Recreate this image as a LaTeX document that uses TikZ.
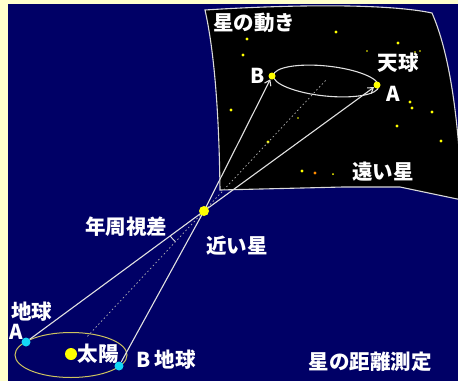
\documentclass[tikz,border=0pt]{standalone}
\usepackage{fontspec}
\setmainfont{Noto Sans CJK JP}
\usetikzlibrary{arrows.meta,backgrounds}
\definecolor{navy}{RGB}{0,0,102}
\definecolor{cream}{RGB}{255,255,204}
\definecolor{starY}{RGB}{255,255,0}
\definecolor{earthC}{RGB}{20,215,245}
\definecolor{orbitY}{RGB}{205,195,95}
\definecolor{rayW}{RGB}{225,225,225}
\begin{document}
\begin{tikzpicture}[x=1pt,y=-1pt]
        \begin{scope}
            \tikzset{bigstar/.style = {
                circle,
                fill=starY,
                inner sep=0pt,
                minimum size=7pt } }
            \tikzset{earth/.style = {
                circle,
                fill=earthC,
                inner sep=0pt,
                minimum size=9pt } }
            \tikzset{ray/.style = {
                draw=rayW,
                line width=1.1pt} }
            \tikzset{jtext/.style = {
                text=white,
                inner sep=0pt,
                font=\fontsize{20.5}{20.5}\selectfont\bfseries } }
                \useasboundingbox (0,0) rectangle (458,381);
                \node[bigstar] (skyB) at (272,76) {};
                \node[bigstar] (skyA) at (377,85) {};
                \node[bigstar, minimum size=10pt] (near) at (204,211) {};
                \node[earth] (earthA) at (26,342) {};
                \node[earth] (earthB) at (119,366) {};
                \node[bigstar, minimum size=12pt] (sun) at (71,354) {};
                \coordinate (skymid) at (326,80);
                \node[jtext] (t1) at (254,23) {星の動き};
                \node[jtext] (t2) at (398,63) {天球};
                \node[jtext] (tB) at (258,76) {B};
                \node[jtext] (tA) at (393,94) {A};
                \node[jtext] (t3) at (383,172) {遠い星};
                \node[jtext] (t4) at (126,227) {年周視差};
                \node[jtext] (t5) at (237,246) {近い星};
                \node[jtext] (t6) at (32,312) {地球};
                \node[jtext] (tA2) at (16,332) {A};
                \node[jtext] (t7) at (98,354) {太陽};
                \node[jtext] (t8) at (166,360) {B 地球};
                \node[jtext] (t9) at (370,362) {星の距離測定};
                \begin{scope}[on background layer]
                    \fill[cream] (0,0) rectangle (458,381);
                    \fill[navy] (8,4) rectangle (458,381);
                    \clip (0,0) rectangle (458,381);
                    \filldraw[fill=black, draw=gray!30, line width=1.1pt]
                        (205,10) .. controls (300,4) and (390,4) .. (432,13)
                        .. controls (446,45) and (458,100) .. (462,200)
                        -- (400,187) -- (343,187) -- (220,190)
                        .. controls (219,110) and (214,50) .. (205,10) -- cycle;
                    \foreach \x/\y/\r in {336/32/1.6, 247/39/1.6, 243/55/1.6, 398/43/1.6,
                        367/51/0.8, 415/52/0.9, 420/51/0.9, 231/110/1.6, 410/102/1.6,
                        412/108/1.6, 432/112/1.6, 397/126/1.6, 441/141/1.6, 268/142/1.6,
                        298/118/0.8, 302/171/1.6, 333/174/1}{
                        \fill[starY] (\x,\y) circle (\r pt);
                    }
                    \fill[orange!90!yellow] (315,173) circle (1.6pt);
                    \draw[gray!25, line width=1.1pt, rotate around={-6:(326,81)}]
                        (326,81) ellipse (53pt and 15pt);
                    \draw[orbitY, line width=1pt] (71,355) ellipse (56pt and 22.5pt);
                    \draw[gray!60, line width=0.7pt, dash pattern=on 1.5pt off 2.5pt,
                        shorten <=18pt] (sun) -- (skymid);
                    \path[ray] (earthA) -- (near.center);
                    \path[ray] (earthB) -- (near.center);
                    \path[ray, -{Straight Barb[length=5pt,width=7pt]}] (near.center) -- (skyA);
                    \path[ray, -{Straight Barb[length=5pt,width=7pt]}] (near.center) -- (skyB);
                    \draw[rayW, line width=0.9pt] ([shift={(143.6:42)}]near.center)
                        arc[start angle=143.6, end angle=133.1, radius=42];
                \end{scope}
        \end{scope}
    \end{tikzpicture}
\end{document}
